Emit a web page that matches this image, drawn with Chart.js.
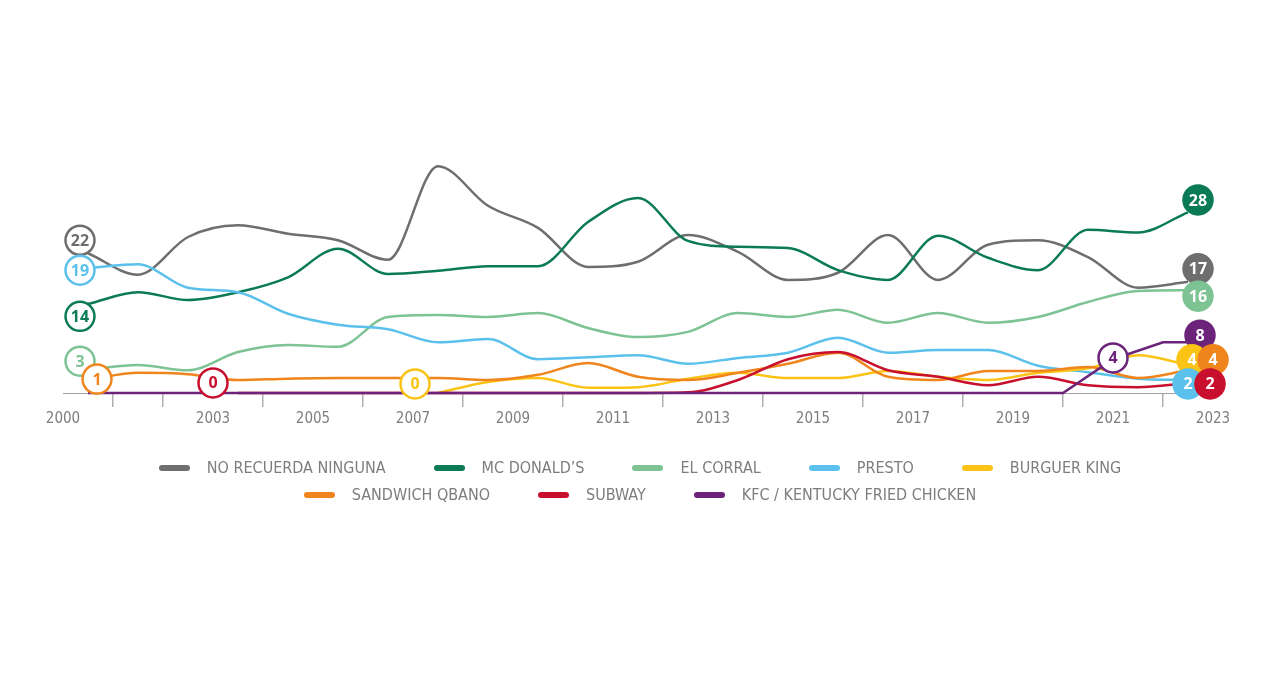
<!DOCTYPE html>
<html>
<head>
<meta charset="utf-8">
<title>Comidas rapidas</title>
<script src="https://cdn.jsdelivr.net/npm/chart.js@4.4.1/dist/chart.umd.min.js"></script>
<style>
html, body { margin: 0; padding: 0; background: #fff; }
#wrap { position: relative; width: 1280px; height: 678px; }
#legend {
    position: absolute; left: 0; top: 454px; width: 1280px;
    font-family: 'Liberation Sans Narrow', 'DejaVu Sans Condensed', sans-serif;
    font-size: 16px; color: #7d7d7d;
}
.row { display: flex; justify-content: center; align-items: center; height: 27px; }
.item { display: flex; align-items: center; margin: 0 24px; white-space: nowrap; }
.swatch { width: 31px; height: 6px; border-radius: 3px; margin-right: 17px; }
</style>
</head>
<body>
<div id="wrap">
    <canvas id="chart" width="1280" height="678"></canvas>
    <div id="legend"></div>
</div>
<script>
// años de la encuesta (cada punto va a mitad de año)
var years = [2000, 2001, 2002, 2003, 2004, 2005, 2006, 2007, 2008, 2009, 2010, 2011,
             2012, 2013, 2014, 2015, 2016, 2017, 2018, 2019, 2020, 2021, 2022];

var seriesNames = ['NO RECUERDA NINGUNA', 'MC DONALD\u2019S', 'EL CORRAL', 'PRESTO', 'BURGUER KING',
                   'SANDWICH QBANO', 'SUBWAY', 'KFC / KENTUCKY FRIED CHICKEN'];
var colors = ['#6e6e6e', '#0b7a56', '#7dc393', '#5bc1ec', '#fbc315', '#f0851d', '#c8102e', '#6b2479'];

var noRecuerda = [21.5, 18.2, 24, 25.8, 24.5, 23.5, 20.5, 34.9, 28.8, 25.4, 19.4, 20.2,
                  24.3, 21.7, 17.4, 18.5, 24.3, 17.4, 22.8, 23.5, 20.9, 16.2, 17.1];
var mcDonalds = [13.7, 15.5, 14.3, 15.5, 17.8, 22.2, 18.3, 18.8, 19.5, 19.5, 26.3, 30,
                 23.4, 22.5, 22.3, 18.9, 17.4, 24.2, 20.8, 18.9, 25.1, 24.7, 27.8];
var elCorral = [3.6, 4.3, 3.5, 6.3, 7.4, 7.1, 11.7, 12, 11.7, 12.3, 10, 8.6,
                9.4, 12.3, 11.7, 12.8, 10.8, 12.3, 10.8, 11.7, 14, 15.7, 15.8];
var presto = [19.2, 19.8, 16.2, 15.5, 12.2, 10.5, 9.8, 7.8, 8.3, 5.2, 5.5, 5.8,
              4.5, 5.4, 6.2, 8.5, 6.2, 6.6, 6.6, 4.2, 3.2, 2.2, 2.0];
var burguerKing = [null, null, null, null, null, null, null, 0, 1.7, 2.3, 0.8, 0.9,
                   2.2, 3.1, 2.3, 2.3, 3.4, 2.5, 2.0, 3.1, 3.8, 5.8, 4.3];
var sandwichQbano = [2.0, 3.1, 2.9, 2.0, 2.2, 2.3, 2.3, 2.3, 2.0, 2.8, 4.6, 2.5,
                     2.0, 3.1, 4.5, 6.2, 2.5, 2.0, 3.4, 3.4, 4.0, 2.3, 3.5];
var subway = [null, null, null, 0, 0, 0, 0, 0, 0, 0, 0, 0,
              0.1, 2.0, 5.2, 6.3, 3.5, 2.5, 1.2, 2.5, 1.2, 0.9, 1.5];
// KFC se dibuja con tramos rectos
var kfcYears = [2000.5, 2020, 2021, 2022, 2022.5];
var kfcValues = [0, 0, 5.2, 7.8, 7.8];

// etiquetas redondas: serie, texto, posicion (año, valor), rellena o no
var bubbles = [
    { serie: 0, text: '22', x: 2000.34, y: 23.5, filled: false },
    { serie: 3, text: '19', x: 2000.34, y: 18.9, filled: false },
    { serie: 1, text: '14', x: 2000.34, y: 11.8, filled: false },
    { serie: 2, text: '3', x: 2000.34, y: 4.9, filled: false },
    { serie: 5, text: '1', x: 2000.68, y: 2.15, filled: false },
    { serie: 6, text: '0', x: 2003.0, y: 1.55, filled: false },
    { serie: 4, text: '0', x: 2007.04, y: 1.4, filled: false },
    { serie: 7, text: '4', x: 2021.0, y: 5.4, filled: false },
    { serie: 1, text: '28', x: 2022.7, y: 29.7, filled: true },
    { serie: 0, text: '17', x: 2022.7, y: 19.1, filled: true },
    { serie: 2, text: '16', x: 2022.7, y: 14.9, filled: true },
    { serie: 7, text: '8', x: 2022.74, y: 8.9, filled: true },
    { serie: 4, text: '4', x: 2022.58, y: 5.1, filled: true },
    { serie: 5, text: '4', x: 2023.0, y: 5.1, filled: true },
    { serie: 3, text: '2', x: 2022.5, y: 1.4, filled: true },
    { serie: 6, text: '2', x: 2022.94, y: 1.4, filled: true }
];

var labeledYears = [2000, 2003, 2005, 2007, 2009, 2011, 2013, 2015, 2017, 2019, 2021, 2023];

var toPoints = function (values) {
    return years.map(function (yr, i) { return { x: yr + 0.5, y: values[i] }; });
};

var allValues = [noRecuerda, mcDonalds, elCorral, presto, burguerKing, sandwichQbano, subway];

var datasets = allValues.map(function (values, i) {
    return {
        label: seriesNames[i],
        data: toPoints(values),
        borderColor: colors[i],
        borderWidth: 2.5,
        pointRadius: 0,
        cubicInterpolationMode: 'monotone',
        fill: false,
        clip: false,
        order: 8 - i
    };
});

datasets.push({
    label: seriesNames[7],
    data: kfcYears.map(function (yr, i) { return { x: yr, y: kfcValues[i] }; }),
    borderColor: colors[7],
    borderWidth: 2.5,
    pointRadius: 0,
    tension: 0,
    fill: false,
    clip: false,
    order: 0
});

var bubblePlugin = {
    id: 'bubbles',
    afterDatasetsDraw: function (chart) {
        var ctx = chart.ctx;
        var xs = chart.scales.x;
        var ys = chart.scales.y;
        ctx.save();
        bubbles.forEach(function (b) {
            var px = xs.getPixelForValue(b.x);
            var py = ys.getPixelForValue(b.y);
            var c = colors[b.serie];
            ctx.beginPath();
            ctx.arc(px, py, 14.5, 0, Math.PI * 2);
            ctx.fillStyle = b.filled ? c : '#ffffff';
            ctx.fill();
            ctx.lineWidth = 2.5;
            ctx.strokeStyle = c;
            ctx.stroke();
            ctx.fillStyle = b.filled ? '#ffffff' : c;
            ctx.font = 'bold 16px "Open Sans", sans-serif';
            ctx.textAlign = 'center';
            ctx.textBaseline = 'middle';
            ctx.fillText(b.text, px, py + 1);
        });
        ctx.restore();
    }
};

var renderChart = function () {
    var ctx = document.getElementById('chart');
    var chart = new Chart(ctx, {
        type: 'line',
        data: { datasets: datasets },
        options: {
            responsive: false,
            animation: false,
            layout: { padding: { left: 63, right: 67, top: 133, bottom: 247 } },
            plugins: {
                legend: { display: false },
                tooltip: { enabled: false }
            },
            scales: {
                x: {
                    type: 'linear',
                    min: 2000,
                    max: 2023,
                    border: { color: '#a0a0a0', width: 1 },
                    grid: {
                        drawOnChartArea: false,
                        drawTicks: true,
                        tickLength: 14,
                        tickColor: function (c) {
                            return labeledYears.indexOf(c.tick.value) >= 0 ? 'rgba(0,0,0,0)' : '#b0b0b0';
                        },
                        lineWidth: 1.5
                    },
                    ticks: {
                        stepSize: 1,
                        autoSkip: false,
                        maxRotation: 0,
                        padding: 3,
                        color: '#7d7d7d',
                        font: { family: "'Liberation Sans Narrow', 'DejaVu Sans Condensed', sans-serif", size: 15 },
                        callback: function (v) {
                            return labeledYears.indexOf(v) >= 0 ? String(v) : '';
                        }
                    }
                },
                y: {
                    display: false,
                    min: 0,
                    max: 40
                }
            }
        },
        plugins: [bubblePlugin]
    });
    return chart;
};

var renderLegend = function () {
    var rows = [[0, 1, 2, 3, 4], [5, 6, 7]];
    var legend = document.getElementById('legend');
    rows.forEach(function (row) {
        var div = document.createElement('div');
        div.className = 'row';
        row.forEach(function (i) {
            var item = document.createElement('div');
            item.className = 'item';
            var sw = document.createElement('span');
            sw.className = 'swatch';
            sw.style.background = colors[i];
            var txt = document.createElement('span');
            txt.textContent = seriesNames[i];
            item.appendChild(sw);
            item.appendChild(txt);
            div.appendChild(item);
        });
        legend.appendChild(div);
    });
};

renderChart();
renderLegend();
</script>
</body>
</html>
